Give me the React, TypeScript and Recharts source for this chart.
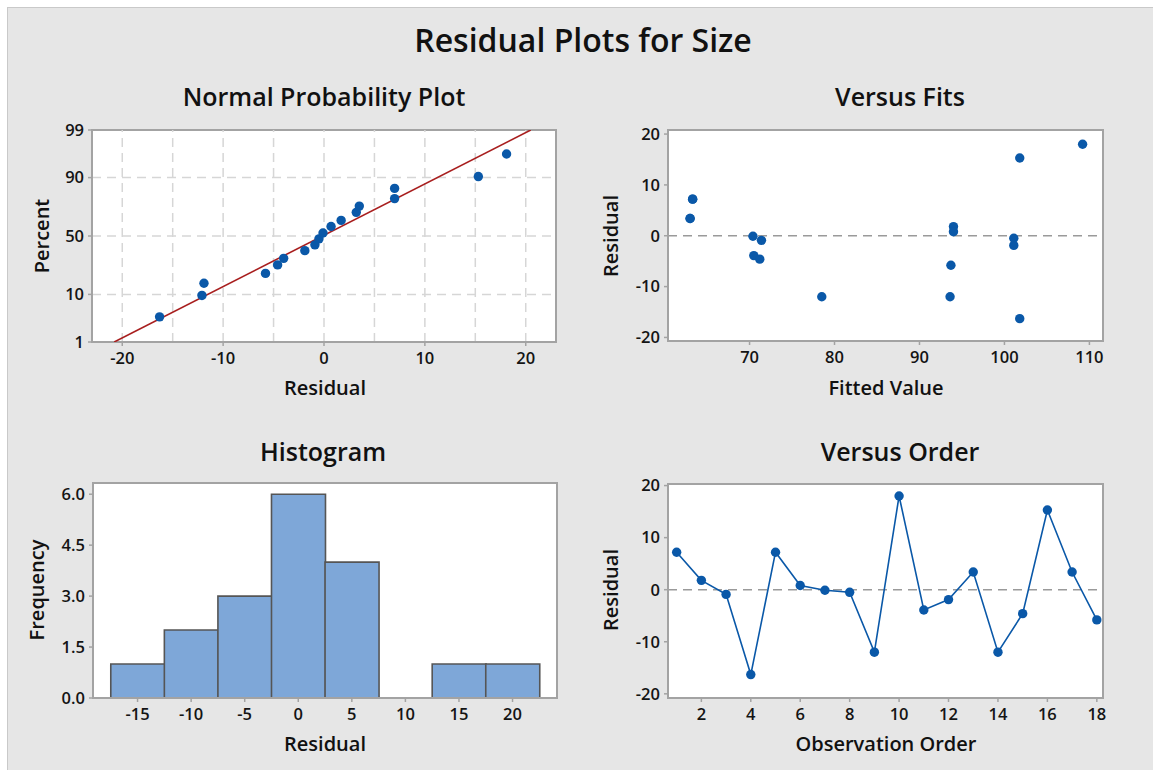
import React from "react";
import {
  ScatterChart,
  Scatter,
  BarChart,
  Bar,
  XAxis,
  YAxis,
  CartesianGrid,
  ReferenceLine,
  ReferenceArea,
} from "recharts";

// residuals and fits, listed by observation order
const observationOrder = [1, 2, 3, 4, 5, 6, 7, 8, 9, 10, 11, 12, 13, 14, 15, 16, 17, 18];
const residuals = [7.2, 1.8, -0.9, -16.3, 7.2, 0.8, -0.1, -0.5, -12.0, 18.0, -3.9, -1.9, 3.4, -12.0, -4.6, 15.3, 3.4, -5.8];
const fittedValues = [63.3, 94.0, 71.4, 101.8, 63.3, 94.0, 70.4, 101.1, 78.5, 109.2, 70.5, 101.1, 63.0, 93.6, 71.2, 101.8, 63.0, 93.7];

// normal probability plot (sorted residuals vs percent)
const normalResiduals = [-16.3, -12.1, -11.9, -5.8, -4.6, -4.0, -1.9, -0.9, -0.5, -0.1, 0.7, 1.7, 3.2, 3.5, 7.0, 7.0, 15.3, 18.1];
const normalPercents = [3.8, 9.6, 15.0, 20.6, 26.3, 31.2, 37.4, 42.3, 47.5, 52.6, 58.3, 63.4, 69.8, 74.4, 79.4, 85.2, 90.4, 96.4];
const fitLineResiduals = [-20.8, 20.5];
const fitLinePercents = [1, 99];
const percentTicks = [1, 10, 50, 90, 99];
const percentGrid = [10, 50, 90];
const normalXTicks = [-20, -10, 0, 10, 20];
const normalXGrid = [-20, -15, -10, -5, 0, 5, 10, 15, 20];

// histogram
const binMids = [-15, -10, -5, 0, 5, 10, 15, 20];
const binCounts = [1, 2, 3, 6, 4, 0, 1, 1];
const histXTicks = [-15, -10, -5, 0, 5, 10, 15, 20];
const histYTicks = [0, 1.5, 3, 4.5, 6];

const residualTicks = [-20, -10, 0, 10, 20];
const fitsTicks = [70, 80, 90, 100, 110];
const orderTicks = [2, 4, 6, 8, 10, 12, 14, 16, 18];

const FONT = '"Open Sans", "Noto Sans", sans-serif';
const BLUE = "#0a58a8";
const AXIS = "#a3a3a3";
const BG = "#e6e6e6";

// inverse normal cdf, used as the probability-scale transform
function probit(p: number) {
  const a = [-39.69683028665376, 220.9460984245205, -275.9285104469687, 138.357751867269, -30.66479806614716, 2.506628277459239];
  const b = [-54.47609879822406, 161.5858368580409, -155.6989798598866, 66.80131188771972, -13.28068155288572];
  const c = [-0.007784894002430293, -0.3223964580411365, -2.400758277161838, -2.549732539343734, 4.374664141464968, 2.938163982698783];
  const d = [0.007784695709041462, 0.3224671290700398, 2.445134137142996, 3.754408661907416];
  const lo = 0.02425;
  if (p < lo) {
    const q = Math.sqrt(-2 * Math.log(p));
    return (((((c[0] * q + c[1]) * q + c[2]) * q + c[3]) * q + c[4]) * q + c[5]) / ((((d[0] * q + d[1]) * q + d[2]) * q + d[3]) * q + 1);
  }
  if (p > 1 - lo) {
    const q = Math.sqrt(-2 * Math.log(1 - p));
    return -(((((c[0] * q + c[1]) * q + c[2]) * q + c[3]) * q + c[4]) * q + c[5]) / ((((d[0] * q + d[1]) * q + d[2]) * q + d[3]) * q + 1);
  }
  const q = p - 0.5;
  const r = q * q;
  return ((((((a[0] * r + a[1]) * r + a[2]) * r + a[3]) * r + a[4]) * r + a[5]) * q) / (((((b[0] * r + b[1]) * r + b[2]) * r + b[3]) * r + b[4]) * r + 1);
}

const zOf = (pct: number) => probit(pct / 100);

const normalData = normalResiduals.map((x, i) => ({ x, y: zOf(normalPercents[i]) }));
const fitLineData = fitLineResiduals.map((x, i) => ({ x, y: zOf(fitLinePercents[i]) }));
const fitsData = fittedValues.map((x, i) => ({ x, y: residuals[i] }));
const orderData = observationOrder.map((x, i) => ({ x, y: residuals[i] }));
const histData = binMids.map((mid, i) => ({ mid, count: binCounts[i] }));

const tickStyle = { fill: "#141414", fontSize: 16.5, fontWeight: 600, fontFamily: FONT };
const axisCommon = {
  stroke: AXIS,
  axisLine: { stroke: AXIS, strokeWidth: 2 },
  tickLine: { stroke: AXIS, strokeWidth: 1.5 },
  tick: tickStyle,
  tickSize: 4,
  interval: 0 as const,
  allowDataOverflow: true,
};

function Txt({ x, y, size, children, rotate }: { x: number; y: number; size: number; children: React.ReactNode; rotate?: boolean }) {
  return (
    <div
      style={{
        position: "absolute",
        left: x,
        top: y,
        transform: `translate(-50%, -50%)${rotate ? " rotate(-90deg)" : ""}`,
        fontSize: size,
        fontWeight: 600,
        lineHeight: 1,
        whiteSpace: "nowrap",
        color: "#111",
      }}
    >
      {children}
    </div>
  );
}

const dot = (props: any) => <circle cx={props.cx} cy={props.cy} r={4.7} fill={BLUE} />;
const noDot = () => <g />;

export default function App() {
  const zDomain = [zOf(1), zOf(99)];
  const normalXDomain = [-23, 23];
  const fitsXDomain = [60.4, 111.6];
  const fitsYDomain = [-20.7, 20.8];
  const histXDomain = [-19.16, 24.15];
  const histYDomain = [0, 6.33];
  const orderXDomain = [0.65, 18.25];
  const orderYDomain = [-20.8, 20.3];

  return (
    <div style={{ position: "absolute", left: 0, top: 0, width: 1153, height: 770, background: "#fff", fontFamily: FONT, overflow: "hidden" }}>
      <div style={{ position: "absolute", left: 7, top: 7, width: 1146, height: 763, background: BG, borderTop: "1px solid #c9c9c9", borderLeft: "1px solid #c9c9c9" }} />

      <Txt x={583} y={40} size={32}>Residual Plots for Size</Txt>
      <Txt x={324} y={96} size={25}>Normal Probability Plot</Txt>
      <Txt x={900} y={96} size={25}>Versus Fits</Txt>
      <Txt x={323} y={451} size={25}>Histogram</Txt>
      <Txt x={900} y={451} size={25}>Versus Order</Txt>

      {/* Normal probability plot */}
      <div style={{ position: "absolute", left: 0, top: 110 }}>
        <ScatterChart width={580} height={300} margin={{ top: 20, right: 24, left: 0, bottom: 0 }}>
          <CartesianGrid fill="#fff" horizontal={false} vertical={false} />
          {normalXGrid.map((v) => (
            <ReferenceLine key={"gx" + v} x={v} stroke="#d6d6d6" strokeWidth={1.5} strokeDasharray="9 6" />
          ))}
          {percentGrid.map((p) => (
            <ReferenceLine key={"gy" + p} y={zOf(p)} stroke="#d6d6d6" strokeWidth={1.5} strokeDasharray="9 6" />
          ))}
          <XAxis {...axisCommon} type="number" dataKey="x" domain={normalXDomain} ticks={normalXTicks} height={68} tickMargin={6} />
          <YAxis
            {...axisCommon}
            type="number"
            dataKey="y"
            domain={zDomain}
            ticks={percentTicks.map(zOf)}
            tickFormatter={(v: number) => String(percentTicks.find((p) => Math.abs(zOf(p) - v) < 1e-6) ?? "")}
            width={92}
            tickMargin={4}
          />
          <Scatter data={fitLineData} line={{ stroke: "#a81e1e", strokeWidth: 1.6 }} shape={noDot} isAnimationActive={false} />
          <Scatter data={normalData} shape={dot} isAnimationActive={false} />
          <ReferenceArea x1={normalXDomain[0]} x2={normalXDomain[1]} y1={zDomain[0]} y2={zDomain[1]} fill="none" stroke={AXIS} strokeWidth={2} />
        </ScatterChart>
      </div>
      <Txt x={42} y={236} size={20} rotate>Percent</Txt>
      <Txt x={325} y={388} size={20}>Residual</Txt>

      {/* Versus fits */}
      <div style={{ position: "absolute", left: 580, top: 110 }}>
        <ScatterChart width={560} height={300} margin={{ top: 20, right: 37, left: 0, bottom: 0 }}>
          <CartesianGrid fill="#fff" horizontal={false} vertical={false} />
          <ReferenceLine y={0} stroke="#9a9a9a" strokeWidth={1.6} strokeDasharray="9 6" />
          <XAxis {...axisCommon} type="number" dataKey="x" domain={fitsXDomain} ticks={fitsTicks} height={69} tickMargin={6} />
          <YAxis {...axisCommon} type="number" dataKey="y" domain={fitsYDomain} ticks={residualTicks} width={88} tickMargin={4} />
          <Scatter data={fitsData} shape={dot} isAnimationActive={false} />
          <ReferenceArea x1={fitsXDomain[0]} x2={fitsXDomain[1]} y1={fitsYDomain[0]} y2={fitsYDomain[1]} fill="none" stroke={AXIS} strokeWidth={2} />
        </ScatterChart>
      </div>
      <Txt x={611} y={236} size={20} rotate>Residual</Txt>
      <Txt x={886} y={388} size={20}>Fitted Value</Txt>

      {/* Histogram */}
      <div style={{ position: "absolute", left: 0, top: 460 }}>
        <BarChart width={580} height={300} data={histData} margin={{ top: 23, right: 23, left: 0, bottom: 0 }} barCategoryGap={0} barGap={0}>
          <CartesianGrid fill="#fff" horizontal={false} vertical={false} />
          <XAxis {...axisCommon} type="number" dataKey="mid" domain={histXDomain} ticks={histXTicks} height={62} tickMargin={6} />
          <YAxis
            {...axisCommon}
            type="number"
            domain={histYDomain}
            ticks={histYTicks}
            tickFormatter={(v: number) => v.toFixed(1)}
            width={93}
            tickMargin={4}
          />
          <Bar dataKey="count" fill="#7ea7d8" stroke="#555" strokeWidth={1.6} isAnimationActive={false} />
          <ReferenceArea x1={histXDomain[0]} x2={histXDomain[1]} y1={histYDomain[0]} y2={histYDomain[1]} fill="none" stroke={AXIS} strokeWidth={2} />
        </BarChart>
      </div>
      <Txt x={37} y={590} size={20} rotate>Frequency</Txt>
      <Txt x={325} y={744} size={20}>Residual</Txt>

      {/* Versus order */}
      <div style={{ position: "absolute", left: 580, top: 460 }}>
        <ScatterChart width={560} height={300} margin={{ top: 24, right: 37, left: 0, bottom: 0 }}>
          <CartesianGrid fill="#fff" horizontal={false} vertical={false} />
          <ReferenceLine y={0} stroke="#9a9a9a" strokeWidth={1.6} strokeDasharray="9 6" />
          <XAxis {...axisCommon} type="number" dataKey="x" domain={orderXDomain} ticks={orderTicks} height={62} tickMargin={6} />
          <YAxis {...axisCommon} type="number" dataKey="y" domain={orderYDomain} ticks={residualTicks} width={88} tickMargin={4} />
          <Scatter data={orderData} line={{ stroke: BLUE, strokeWidth: 1.6 }} shape={dot} isAnimationActive={false} />
          <ReferenceArea x1={orderXDomain[0]} x2={orderXDomain[1]} y1={orderYDomain[0]} y2={orderYDomain[1]} fill="none" stroke={AXIS} strokeWidth={2} />
        </ScatterChart>
      </div>
      <Txt x={611} y={590} size={20} rotate>Residual</Txt>
      <Txt x={886} y={744} size={20}>Observation Order</Txt>
    </div>
  );
}
